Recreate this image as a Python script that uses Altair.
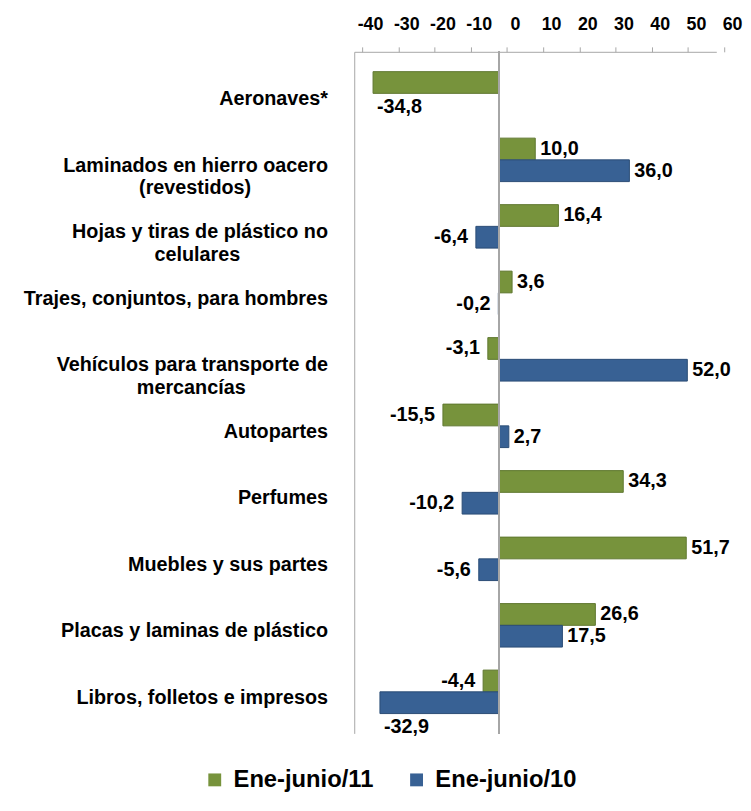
import altair as alt
import pandas as pd

categories = [
    "Aeronaves*",
    "Laminados en hierro oacero|(revestidos)",
    "Hojas y tiras de plástico no|celulares",
    "Trajes, conjuntos, para hombres",
    "Vehículos para transporte de|mercancías",
    "Autopartes",
    "Perfumes",
    "Muebles y sus partes",
    "Placas y laminas de plástico",
    "Libros, folletos e impresos",
]
series = ["Ene-junio/11", "Ene-junio/10"]
values_11 = [-34.8, 10.0, 16.4, 3.6, -3.1, -15.5, 34.3, 51.7, 26.6, -4.4]
values_10 = [None, 36.0, -6.4, -0.2, 52.0, 2.7, -10.2, -5.6, 17.5, -32.9]
x_ticks = [-40, -30, -20, -10, 0, 10, 20, 30, 40, 50, 60]
colors = ["#77933C", "#386194"]


def em_width(s):
    # rough bold sans-serif advance widths (em)
    w = 0.0
    for ch in s:
        if ch in "ijlí":
            w += 0.278
        elif ch == " ":
            w += 0.278
        elif ch in "rt()":
            w += 0.35
        elif ch in "mM":
            w += 0.889
        elif ch.isupper():
            w += 0.72
        elif ch in "odpnqbhuáóg":
            w += 0.611
        else:
            w += 0.556
    return w


def centered(label):
    # second line visually centred under the (right-aligned) first line
    parts = label.split("|")
    if len(parts) == 1:
        return label
    first, second = parts
    pad = round((em_width(first) - em_width(second)) / 2 / 0.278)
    return first + "|" + second + "\u00a0" * max(pad, 0) + "\u200b"


disp = [centered(c) for c in categories]

rows = []
for c, a, b in zip(disp, values_11, values_10):
    for s, v in ((series[0], a), (series[1], b)):
        if v is None:
            continue
        rows.append({"cat": c, "s": s, "v": v, "lab": f"{v:.1f}".replace(".", ",")})
df = pd.DataFrame(rows)

FONT = "Liberation Sans"

xscale = alt.Scale(domain=[-40, 60], nice=False, zero=False)
yscale = alt.Scale(paddingInner=0, paddingOuter=0.125)

yaxis = alt.Axis(
    title=None,
    labelExpr="split(datum.label, '|')",
    labelFont=FONT,
    labelFontSize=20,
    labelFontWeight="bold",
    labelColor="black",
    labelPadding=27,
    labelLineHeight=23,
    labelLimit=400,
    labelOffset=6,
    ticks=False,
    domainColor="#A6A6A6",
    minExtent=350,
    maxExtent=350,
)
xaxis = alt.Axis(
    orient="top",
    values=x_ticks,
    title=None,
    grid=False,
    labelExpr="datum.value + ''",
    labelFont=FONT,
    labelFontSize=18,
    labelFontWeight="bold",
    labelColor="black",
    labelOverlap=False,
    labelBound=False,
    labelFlush=False,
    labelOffset=8,
    tickOffset=8,
    tickSize=5,
    labelPadding=14,
    domainColor="#A6A6A6",
    tickColor="#A6A6A6",
)

x = alt.X("v:Q", scale=xscale, axis=xaxis)
y = alt.Y("cat:N", sort=disp, scale=yscale, axis=yaxis)
yoff = alt.YOffset("s:N", sort=series, scale=alt.Scale(paddingOuter=0.53, paddingInner=0))
color = alt.Color(
    "s:N",
    sort=series,
    scale=alt.Scale(domain=series, range=colors),
    legend=alt.Legend(
        title=None,
        orient="none",
        legendX=-153,
        legendY=724,
        direction="horizontal",
        symbolType="square",
        symbolSize=169,
        symbolStrokeWidth=0,
        labelFont=FONT,
        labelFontSize=24,
        labelFontWeight="bold",
        labelColor="black",
        labelOffset=7,
        columnPadding=31,
        padding=0,
    ),
)

base = alt.Chart(df)

bars = base.mark_bar(strokeWidth=1).encode(
    x=x,
    y=y,
    yOffset=yoff,
    color=color,
    stroke=alt.Stroke("s:N", sort=series, scale=alt.Scale(domain=series, range=["#5F7730", "#2B4C75"]), legend=None),
)

zero_rule = base.mark_rule(color="#A6A6A6", strokeWidth=1.5).encode(
    x=alt.XDatum(0, type="quantitative", scale=xscale, axis=xaxis)
)

txt_kw = dict(font=FONT, fontSize=20, fontWeight="bold", color="black", baseline="middle")
pos = base.transform_filter("datum.v >= 0").mark_text(align="left", dx=5, **txt_kw).encode(
    x=x, y=y, yOffset=yoff, text="lab:N"
)
neg = base.transform_filter("datum.v < 0 && datum.v > -30").mark_text(align="right", dx=-8, **txt_kw).encode(
    x=x, y=y, yOffset=yoff, text="lab:N"
)
bigneg = base.transform_filter("datum.v <= -30").mark_text(align="left", dx=4, dy=25, **txt_kw).encode(
    x=x, y=y, yOffset=yoff, text="lab:N"
)

chart = (
    alt.layer(bars, zero_rule, pos, neg, bigneg)
    .properties(
        width=366,
        height=689,
        padding={"top": 3, "left": 0, "right": 0, "bottom": 0},
    )
    .configure(font=FONT)
    .configure_view(stroke=None)
)

chart.save("out.html", embed_options={"renderer": "svg", "actions": False})
